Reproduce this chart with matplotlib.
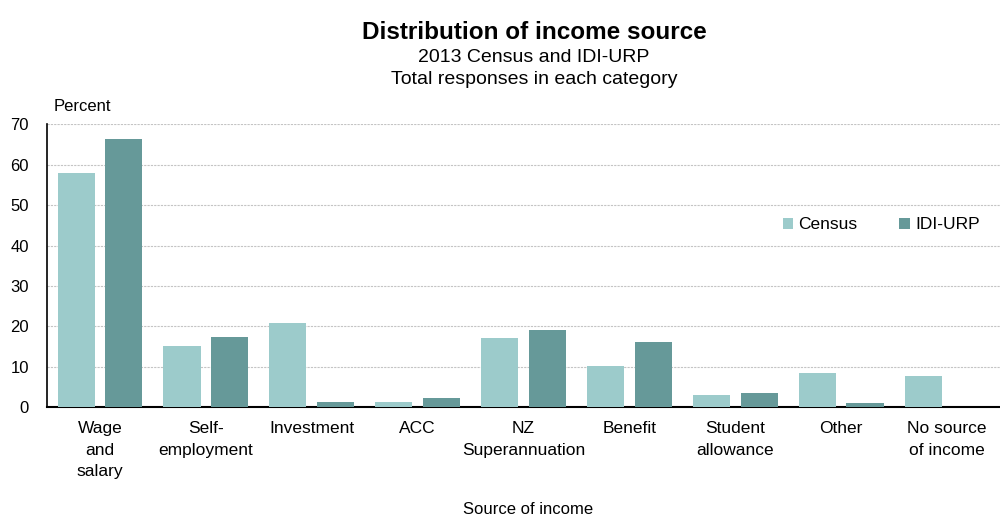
import numpy as np
import matplotlib.pyplot as plt

categories = ['Wage\nand\nsalary', 'Self-\nemployment', 'Investment', 'ACC',
              'NZ\nSuperannuation', 'Benefit', 'Student\nallowance', 'Other',
              'No source\nof income']
census = [57.9, 15.2, 20.8, 1.3, 17.0, 10.2, 3.0, 8.5, 7.7]
idi_urp = [66.3, 17.4, 1.3, 2.2, 19.1, 16.2, 3.6, 0.9, 0.0]

plt.rcParams['font.family'] = ['Liberation Sans', 'DejaVu Sans']

fig = plt.figure(figsize=(10, 5.16), dpi=100)
ax = fig.add_axes([0.047, 0.211, 0.953, 0.548])

x = np.arange(len(categories))
w = 0.35
ax.bar(x - 0.225, census, w, color='#9ccbcb', label='Census', zorder=3)
ax.bar(x + 0.225, idi_urp, w, color='#669999', label='IDI-URP', zorder=3)

ax.set_xlim(-0.5, len(categories) - 0.5)
ax.set_ylim(0, 70)
ax.set_yticks(range(0, 71, 10))
ax.yaxis.grid(True, linestyle=(0, (2, 1)), color='#c4c4c4', linewidth=0.8, zorder=0)
ax.tick_params(axis='y', length=0, labelsize=12, pad=13)
ax.tick_params(axis='x', length=0, labelsize=12.5, pad=10)
ax.set_xticks(x)
ax.set_xticklabels(categories, linespacing=1.55, va='top')
for side in ['top', 'right']:
    ax.spines[side].set_visible(False)
ax.spines['left'].set_linewidth(1.2)
ax.spines['bottom'].set_linewidth(1.5)

ax.legend(loc='center right', bbox_to_anchor=(0.995, 0.645), ncol=2, frameon=False,
          fontsize=12.5, handlelength=0.6, handleheight=0.6, handletextpad=0.3,
          columnspacing=2.4)

fig.text(0.534, 0.937, 'Distribution of income source', ha='center', va='center',
         fontsize=17.5, fontweight='bold')
fig.text(0.534, 0.888, '2013 Census and IDI-URP', ha='center', va='center', fontsize=14)
fig.text(0.534, 0.845, 'Total responses in each category', ha='center', va='center',
         fontsize=14)
fig.text(0.054, 0.794, 'Percent', ha='left', va='center', fontsize=12)
fig.text(0.528, 0.012, 'Source of income', ha='center', va='center', fontsize=12)

fig.savefig('out.png', dpi=100)
